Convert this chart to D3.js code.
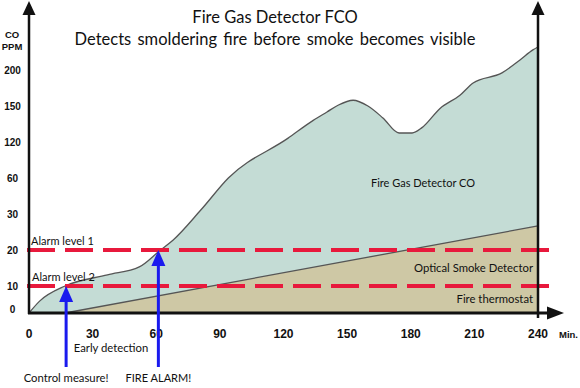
<!DOCTYPE html>
<html>
<head>
<meta charset="utf-8">
<script src="https://cdn.jsdelivr.net/npm/d3@7"></script>
<style>
  body { margin: 0; background: #fff; }
  svg { display: block; }
  .tick-label { font-family: "Liberation Sans", Arial, sans-serif; font-weight: bold; fill: #111; }
  .note { font-family: Lato, "Open Sans", sans-serif; fill: #111; }
</style>
</head>
<body>
<div id="chart"></div>
<script>
// time in minutes, CO in ppm (the ppm axis is stepped, not linear)
const xTicks = [0, 30, 60, 90, 120, 150, 180, 210, 240];
const yTicks = [0, 10, 20, 30, 60, 120, 150, 200];

const gasTime = [0, 5, 17, 37, 52, 62, 68, 81, 94, 122, 134, 140.5, 145.7, 152.8, 159.8, 166.9, 174.5, 180.6, 185.3, 193.8, 203.2, 209.4, 223, 231.5, 237.6, 240];
const gasPpm  = [0, 4.4, 10, 13.1, 15.3, 20, 22.8, 33.3, 60, 123, 138, 145, 151, 158, 150, 140, 127.5, 127.5, 132, 148, 165, 182, 196, 214, 228, 232];

const smokeTime = [17, 240];
const smokePpm  = [0, 26.7];

const alarmLevels = [20, 10];
const alarmNames = ['Alarm level 1', 'Alarm level 2'];

const eventTime = [17.5, 61];
const eventPpm  = [10, 20];
const eventNames = ['Control measure!', 'FIRE ALARM!'];

(function() {
    const width = 580, height = 388;
    const left = 29, right = 538, bottom = 313;
    const yStep = 36;

    const svg = d3.select('#chart').append('svg')
        .attr('width', width)
        .attr('height', height);

    const x = d3.scaleLinear().domain([0, 240]).range([left, right]);
    const y = d3.scaleLinear()
        .domain(yTicks)
        .range(yTicks.map((d, i) => i === 0 ? bottom : bottom - 27 - (i - 1) * yStep));

    const gas = gasTime.map((t, i) => ({t: t, v: gasPpm[i]}));
    const smoke = smokeTime.map((t, i) => ({t: t, v: smokePpm[i]}));

    const area = d3.area()
        .x(d => x(d.t))
        .y0(y(0))
        .y1(d => y(d.v))
        .curve(d3.curveMonotoneX);
    const line = d3.line()
        .x(d => x(d.t))
        .y(d => y(d.v))
        .curve(d3.curveMonotoneX);

    // areas
    svg.append('path').datum(gas).attr('d', area).attr('fill', '#c4dcd5');
    svg.append('path').datum(gas).attr('d', line)
        .attr('fill', 'none').attr('stroke', '#555').attr('stroke-width', 1.3);
    svg.append('path').datum(smoke).attr('d', area).attr('fill', '#cec8a5');
    svg.append('path').datum(smoke).attr('d', line)
        .attr('fill', 'none').attr('stroke', '#555').attr('stroke-width', 1.3);

    // area labels
    svg.append('text').attr('class', 'note')
        .attr('x', 423).attr('y', 187)
        .attr('text-anchor', 'middle').attr('font-size', 11)
        .text('Fire Gas Detector CO');
    svg.append('text').attr('class', 'note')
        .attr('x', 533).attr('y', 272)
        .attr('text-anchor', 'end').attr('font-size', 11.3)
        .text('Optical Smoke Detector');
    svg.append('text').attr('class', 'note')
        .attr('x', 533).attr('y', 303)
        .attr('text-anchor', 'end').attr('font-size', 11.3)
        .text('Fire thermostat');

    // alarm levels
    alarmLevels.forEach((lv, i) => {
        svg.append('line')
            .attr('x1', left - 2).attr('x2', 557)
            .attr('y1', y(lv)).attr('y2', y(lv))
            .attr('stroke', '#e8193c')
            .attr('stroke-width', 4)
            .attr('stroke-dasharray', '28,10');
        svg.append('text').attr('class', 'note')
            .attr('x', left + 2 + i).attr('y', y(lv) - 5)
            .attr('font-size', 11)
            .text(alarmNames[i]);
    });

    // axes
    const axisG = svg.append('g').attr('stroke', '#111').attr('fill', '#111');
    axisG.append('line').attr('x1', left).attr('x2', left).attr('y1', bottom + 1).attr('y2', 12).attr('stroke-width', 2.5);
    axisG.append('line').attr('x1', right).attr('x2', right).attr('y1', bottom + 5).attr('y2', 12).attr('stroke-width', 2.5);
    axisG.append('line').attr('x1', left - 1).attr('x2', 550).attr('y1', bottom).attr('y2', bottom).attr('stroke-width', 3);
    [left, right].forEach(ax => {
        axisG.append('path').attr('stroke', 'none')
            .attr('d', `M${ax},1 L${ax - 6.5},15 L${ax + 6.5},15 Z`);
    });
    axisG.append('path').attr('stroke', 'none')
        .attr('d', `M564,${bottom} L547,${bottom - 6.5} L547,${bottom + 6.5} Z`);

    // tick labels
    svg.selectAll('.xlab').data(xTicks).enter().append('text')
        .attr('class', 'tick-label')
        .attr('x', d => x(d)).attr('y', 338)
        .attr('text-anchor', 'middle').attr('font-size', 12)
        .text(d => d);
    svg.selectAll('.ylab').data(yTicks).enter().append('text')
        .attr('class', 'tick-label')
        .attr('x', 12.5).attr('y', (d, i) => y(d) + (i === 0 ? -0.5 : 3.5))
        .attr('text-anchor', 'middle').attr('font-size', 10)
        .text(d => d);
    svg.append('text').attr('class', 'tick-label')
        .attr('x', 12).attr('y', 38).attr('text-anchor', 'middle').attr('font-size', 9.5).text('CO');
    svg.append('text').attr('class', 'tick-label')
        .attr('x', 12).attr('y', 50).attr('text-anchor', 'middle').attr('font-size', 9.5).text('PPM');
    svg.append('text').attr('class', 'tick-label')
        .attr('x', 559).attr('y', 338).attr('font-size', 9.5).text('Min.');

    // event arrows
    eventTime.forEach((t, i) => {
        const ax = x(t), tip = y(eventPpm[i]);
        svg.append('line')
            .attr('x1', ax).attr('x2', ax)
            .attr('y1', 367).attr('y2', tip + 10)
            .attr('stroke', '#1a1aee').attr('stroke-width', 3);
        svg.append('path').attr('fill', '#1a1aee')
            .attr('d', `M${ax},${tip} L${ax - 7},${tip + 16} L${ax + 7},${tip + 16} Z`);
        svg.append('text').attr('class', 'note')
            .attr('x', ax).attr('y', 382)
            .attr('text-anchor', 'middle').attr('font-size', i === 0 ? 11.3 : 11)
            .text(eventNames[i]);
    });
    svg.append('text').attr('class', 'note')
        .attr('x', 111).attr('y', 352)
        .attr('text-anchor', 'middle').attr('font-size', 11.3)
        .text('Early detection');

    // title
    svg.append('text').attr('class', 'note')
        .attr('x', 275).attr('y', 23)
        .attr('text-anchor', 'middle').attr('font-size', 16.5)
        .text('Fire Gas Detector FCO');
    svg.append('text').attr('class', 'note')
        .attr('x', 275).attr('y', 45)
        .attr('text-anchor', 'middle').attr('font-size', 16.5)
        .style('word-spacing', '2px')
        .text('Detects smoldering fire before smoke becomes visible');
})();
</script>
</body>
</html>
